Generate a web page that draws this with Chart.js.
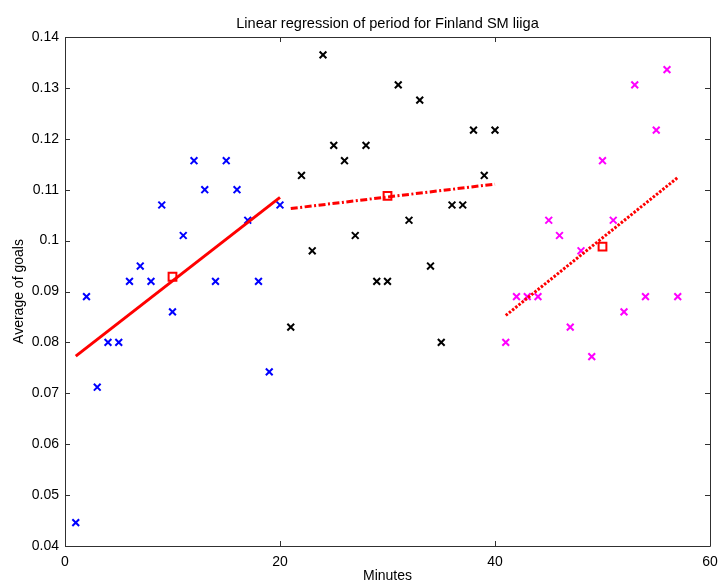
<!DOCTYPE html>
<html>
<head>
<meta charset="utf-8">
<title>Linear regression of period for Finland SM liiga</title>
<script src="https://cdn.jsdelivr.net/npm/chart.js@4"></script>
<style>
    html, body { margin: 0; padding: 0; background: #fff; }
    #wrap { width: 720px; height: 585px; }
</style>
</head>
<body>
<div id="wrap"><canvas id="periodChart" width="720" height="585"></canvas></div>
<script>
// Average goals per minute, one array per period
const minutesP1 = [1, 2, 3, 4, 5, 6, 7, 8, 9, 10, 11, 12, 13, 14, 15, 16, 17, 18, 19, 20];
const goalsP1 = [0.0446, 0.089, 0.0712, 0.080, 0.080, 0.092, 0.095, 0.092, 0.107, 0.086,
                 0.101, 0.1157, 0.110, 0.092, 0.1157, 0.110, 0.104, 0.092, 0.0742, 0.107];

const minutesP2 = [21, 22, 23, 24, 25, 26, 27, 28, 29, 30, 31, 32, 33, 34, 35, 36, 37, 38, 39, 40];
const goalsP2 = [0.083, 0.1128, 0.098, 0.1365, 0.1187, 0.1157, 0.101, 0.1187, 0.092, 0.092,
                 0.1306, 0.104, 0.1276, 0.095, 0.080, 0.107, 0.107, 0.1217, 0.1128, 0.1217];

const minutesP3 = [41, 42, 43, 44, 45, 46, 47, 48, 49, 50, 51, 52, 53, 54, 55, 56, 57];
const goalsP3 = [0.080, 0.089, 0.089, 0.089, 0.104, 0.101, 0.083, 0.098, 0.0772, 0.1157,
                 0.104, 0.086, 0.1306, 0.089, 0.1217, 0.1336, 0.089];

// Fitted lines (start/end minute and value) and period means
const fitMinutes = [[1, 20], [21, 40], [41, 57]];
const fitGoals = [[0.0773, 0.1085], [0.1063, 0.1111], [0.0853, 0.1124]];
const meanMinutes = [10, 30, 50];
const meanGoals = [0.0929, 0.1088, 0.0988];

const xTickValues = [0, 20, 40, 60];
const xTickLabels = ['0', '20', '40', '60'];
const yTickValues = [0.04, 0.05, 0.06, 0.07, 0.08, 0.09, 0.10, 0.11, 0.12, 0.13, 0.14];
const yTickLabels = ['0.04', '0.05', '0.06', '0.07', '0.08', '0.09', '0.1', '0.11', '0.12', '0.13', '0.14'];

const FONT = 'Liberation Sans, Arial, Helvetica, sans-serif';

const toPoints = (xs, ys) => xs.map((x, i) => ({ x: x, y: ys[i] }));

function scatterSet(xs, ys, color) {
    return {
        type: 'scatter',
        data: toPoints(xs, ys),
        pointStyle: 'crossRot',
        pointRadius: 4.8,
        pointBorderWidth: 2,
        borderColor: color,
        backgroundColor: color,
        showLine: false
    };
}

function fitSet(i, dash) {
    return {
        type: 'line',
        data: toPoints(fitMinutes[i], fitGoals[i]),
        borderColor: '#ff0000',
        borderWidth: 3,
        borderDash: dash,
        pointRadius: 0,
        fill: false,
        tension: 0
    };
}

// Matlab-style box with inward tick marks on all four sides
const boxAxes = {
    id: 'boxAxes',
    afterDatasetsDraw(chart) {
        const { ctx, chartArea: a, scales: { x, y } } = chart;
        const len = 5;
        ctx.save();
        ctx.strokeStyle = '#303030';
        ctx.lineWidth = 1;
        ctx.beginPath();
        ctx.rect(Math.round(a.left) + 0.5, Math.round(a.top) + 0.5,
                 Math.round(a.right - a.left), Math.round(a.bottom - a.top));
        xTickValues.forEach(v => {
            const px = Math.round(x.getPixelForValue(v)) + 0.5;
            ctx.moveTo(px, a.bottom); ctx.lineTo(px, a.bottom - len);
            ctx.moveTo(px, a.top); ctx.lineTo(px, a.top + len);
        });
        yTickValues.forEach(v => {
            const py = Math.round(y.getPixelForValue(v)) + 0.5;
            ctx.moveTo(a.left, py); ctx.lineTo(a.left + len, py);
            ctx.moveTo(a.right, py); ctx.lineTo(a.right - len, py);
        });
        ctx.stroke();
        ctx.restore();
    }
};

new Chart(document.getElementById('periodChart'), {
    type: 'scatter',
    data: {
        datasets: [
            fitSet(0, []),
            fitSet(1, [7, 2.5, 2, 2.5]),
            fitSet(2, [2.5, 1.6]),
            {
                type: 'scatter',
                data: toPoints(meanMinutes, meanGoals),
                pointStyle: 'rect',
                pointRadius: 5.5,
                pointBorderWidth: 2,
                borderColor: '#ff0000',
                backgroundColor: 'rgba(255,255,255,0)',
                showLine: false
            },
            scatterSet(minutesP1, goalsP1, '#0000ff'),
            scatterSet(minutesP2, goalsP2, '#000000'),
            scatterSet(minutesP3, goalsP3, '#ff00ff')
        ]
    },
    options: {
        responsive: false,
        animation: false,
        layout: { padding: { left: 0, right: 10, top: 0, bottom: 0 } },
        plugins: {
            legend: { display: false },
            tooltip: { enabled: false },
            title: {
                display: true,
                fullSize: false,
                text: 'Linear regression of period for Finland SM liiga',
                color: '#000',
                font: { family: FONT, size: 14.6, weight: 'normal' },
                padding: { top: 15, bottom: 4.5 }
            }
        },
        scales: {
            x: {
                type: 'linear',
                min: 0,
                max: 60,
                afterBuildTicks: s => { s.ticks = xTickValues.map(v => ({ value: v })); },
                afterFit: s => { s.height = 39; s.paddingLeft = 0; s.paddingRight = 0; },
                grid: { display: false, drawTicks: false },
                border: { display: false },
                ticks: {
                    color: '#000',
                    padding: 8,
                    maxRotation: 0,
                    font: { family: FONT, size: 14 },
                    callback: (v, i) => xTickLabels[i]
                },
                title: {
                    display: true,
                    text: 'Minutes',
                    color: '#000',
                    font: { family: FONT, size: 14 },
                    padding: { top: 0, bottom: 0 }
                }
            },
            y: {
                type: 'linear',
                min: 0.04,
                max: 0.14,
                afterBuildTicks: s => { s.ticks = yTickValues.map(v => ({ value: v })); },
                afterFit: s => { s.width = 65; s.paddingTop = 0; s.paddingBottom = 0; },
                grid: { display: false, drawTicks: false },
                border: { display: false },
                ticks: {
                    color: '#000',
                    padding: 6,
                    font: { family: FONT, size: 14 },
                    callback: (v, i) => yTickLabels[i]
                },
                title: {
                    display: true,
                    text: 'Average of goals',
                    color: '#000',
                    font: { family: FONT, size: 14 },
                    padding: { top: 10.6, bottom: 0 }
                }
            }
        }
    },
    plugins: [boxAxes]
});
</script>
</body>
</html>
